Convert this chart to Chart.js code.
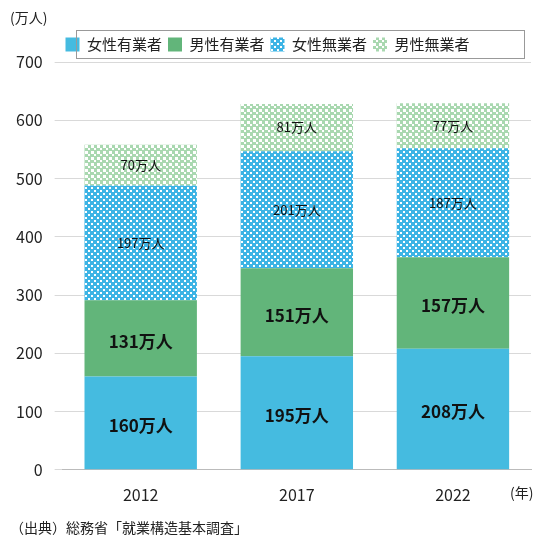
<!DOCTYPE html><html><head><meta charset="utf-8"><script src="https://cdn.jsdelivr.net/npm/chart.js@4"></script>
<style>body{margin:0;background:#fff}#w{position:relative;width:549px;height:551px}</style></head><body><div id="w"><canvas id="c"></canvas></div>
<script>
const categories=['2012','2017','2022'];
const femaleEmployed=[160,195,208];
const maleEmployed=[131,151,157];
const femaleNonEmployed=[197,201,187];
const maleNonEmployed=[70,81,77];
const seriesNames=['女性有業者','男性有業者','女性無業者','男性無業者'];
const yTicks=[0,100,200,300,400,500,600,700];
function pat(bg,fg,type){const t=document.createElement('canvas');t.width=6;t.height=6;const x=t.getContext('2d');
x.fillStyle=bg;x.fillRect(0,0,6,6);x.fillStyle=fg;
if(type==='blue'){x.fillRect(1,1,2,2);x.fillRect(4,4,2,2);}else{x.fillRect(1,1,3,3);x.fillRect(4,4,2,2);}
return x.createPattern(t,'repeat');}
const c=document.getElementById('c');const ctx=c.getContext('2d');
const bluePat=pat('#3db4e5','#ffffff','blue');const greenPat=pat('#a9d8b0','#ffffff','green');
const font="'Noto Sans CJK JP', 'Noto Sans', sans-serif";
const labels={id:'lbl',afterDatasetsDraw(ch){const g=ch.ctx;ch.data.datasets.forEach((d,i)=>{ch.getDatasetMeta(i).data.forEach((b,j)=>{
const y=(b.y+b.base)/2;g.save();g.textAlign='center';g.textBaseline='middle';g.fillStyle='#111';
g.font=(i<2?'bold 17px ':'13px ')+font;g.fillText(d.data[j]+'万人',b.x,y+(i<2?3:0));g.restore();});});
g.save();g.strokeStyle='#999';g.lineWidth=1;g.strokeRect(76.5,30.5,448,28);
g.font='14px '+font;g.fillStyle='#222';g.textAlign='left';g.textBaseline='middle';
g.fillText('(万人)',10,18);g.fillText('(年)',510,493);g.fillText('（出典）総務省「就業構造基本調査」',10,528);g.restore();}};
new Chart(c,{type:'bar',data:{labels:categories,datasets:[
{label:seriesNames[0],data:femaleEmployed,backgroundColor:'#45bbe0'},
{label:seriesNames[1],data:maleEmployed,backgroundColor:'#62b57a'},
{label:seriesNames[2],data:femaleNonEmployed,backgroundColor:bluePat},
{label:seriesNames[3],data:maleNonEmployed,backgroundColor:greenPat}]},
options:{responsive:true,maintainAspectRatio:false,animation:false,devicePixelRatio:1,
layout:{padding:{left:4,right:18,top:31,bottom:38}},
plugins:{tooltip:{enabled:false},legend:{position:'top',labels:{boxWidth:14,boxHeight:14,padding:6,color:'#222',font:{size:15,family:font}}}},
scales:{x:{stacked:true,barThickness:60,grid:{display:false},border:{color:'#bbb'},ticks:{color:'#222',font:{size:16,family:font},padding:8}},
y:{stacked:true,min:0,max:700,afterBuildTicks:a=>{a.ticks=yTicks.map(v=>({value:v}));},grid:{color:'#d9d9d9'},border:{display:false},ticks:{color:'#222',font:{size:16,family:font},padding:12}}}},
plugins:[labels]});
</script></body></html>
